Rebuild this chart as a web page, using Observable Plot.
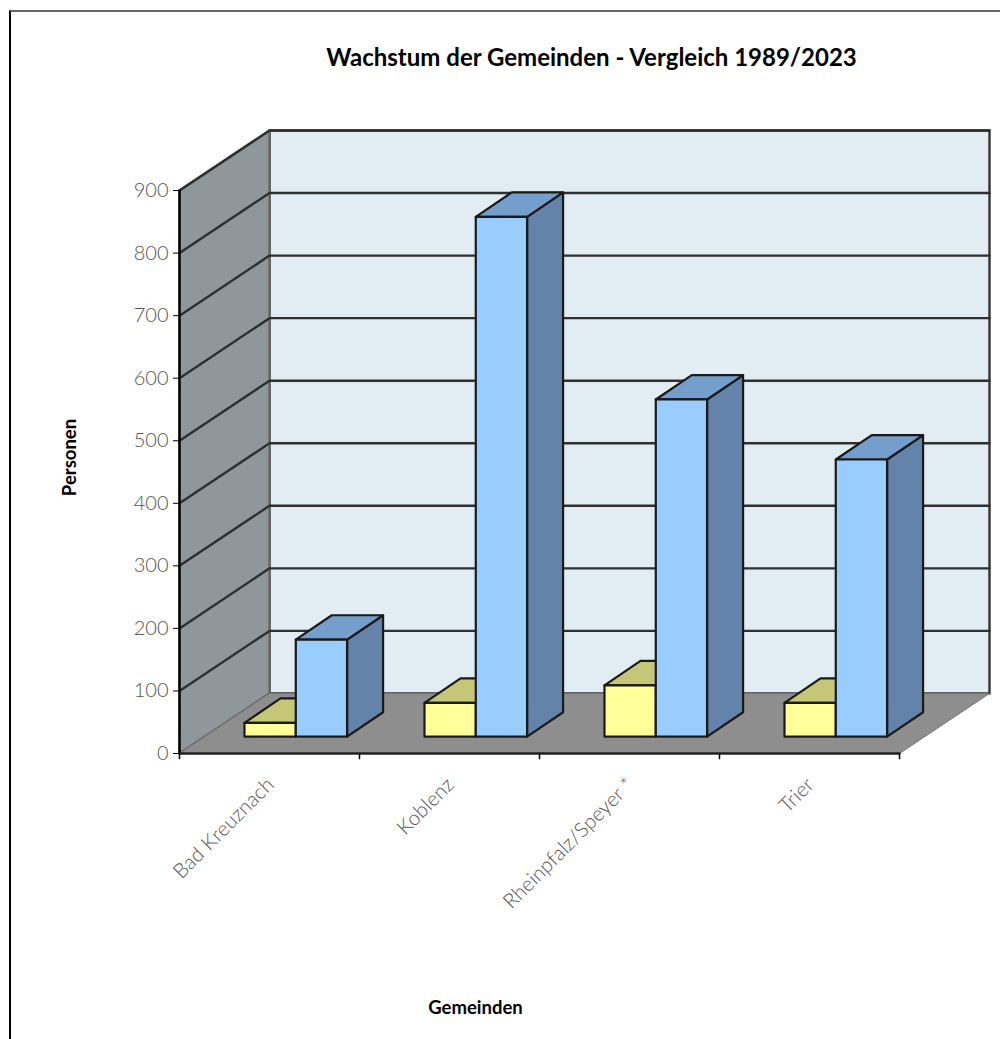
<!DOCTYPE html>
<html lang="de">
<head>
<meta charset="utf-8">
<script src="https://cdn.jsdelivr.net/npm/d3@7"></script>
<script src="https://cdn.jsdelivr.net/npm/@observablehq/plot@0.6"></script>
<style>
html,body{margin:0;padding:0;background:#fff;}
#frame{position:absolute;left:9px;top:10px;right:0;bottom:0;border-left:2px solid #000;border-top:2px solid #666;pointer-events:none;}
svg{display:block;}
</style>
</head>
<body>
<div id="chart"></div>
<div id="frame"></div>
<script>
const gemeinden = ["Bad Kreuznach", "Koblenz", "Rheinpfalz/Speyer *", "Trier"];
const werte1989 = [22, 54, 82, 54];
const werte2023 = [155, 831, 539, 443];
const yTicks = [0, 100, 200, 300, 400, 500, 600, 700, 800, 900];
const xTicks = [0, 1, 2, 3, 4];
const gridWerte = [100, 200, 300, 400, 500, 600, 700, 800, 900];

const DEPTH_X = 0.5, DEPTH_Y = 96;          // oblique offset of the room
const BAR_DX = 0.2, BAR_DY = 39;            // oblique offset of a bar
const LIFT = 27, START = 0.361, BAR_W = 0.285; // bars stand on the floor

const poly = (pts, fill, stroke, strokeWidth) =>
  Plot.line([...pts, pts[0]].map(([x, y]) => ({x, y})), {x: "x", y: "y", fill, stroke, strokeWidth, strokeLinejoin: "round"});

function bar(x0, v, front, top, side) {
  const x1 = x0 + BAR_W, y0 = LIFT, y1 = LIFT + v;
  return [
    poly([[x1, y0], [x1 + BAR_DX, y0 + BAR_DY], [x1 + BAR_DX, y1 + BAR_DY], [x1, y1]], side, "#1a1a1a", 2.2),
    poly([[x0, y1], [x1, y1], [x1 + BAR_DX, y1 + BAR_DY], [x0 + BAR_DX, y1 + BAR_DY]], top, "#1a1a1a", 2.2),
    poly([[x0, y0], [x1, y0], [x1, y1], [x0, y1]], front, "#1a1a1a", 2.2)
  ];
}

const LABEL_FONT = "Lato";
const boldText = (t, opts) => Plot.text([t], {
  frameAnchor: "top-left", lineAnchor: "middle", fontFamily: LABEL_FONT, fontWeight: 700, fill: "#000", ...opts
});

const plot = Plot.plot({
  width: 1000, height: 1039,
  marginLeft: 179, marginRight: 11, marginTop: 130, marginBottom: 286,
  x: {type: "linear", domain: [0, 4 + DEPTH_X], axis: null},
  y: {type: "linear", domain: [0, 900 + DEPTH_Y], axis: null},
  style: {background: "transparent", fontFamily: LABEL_FONT},
  marks: [
    // back wall
    poly([[DEPTH_X, DEPTH_Y], [4 + DEPTH_X, DEPTH_Y], [4 + DEPTH_X, 900 + DEPTH_Y], [DEPTH_X, 900 + DEPTH_Y]], "#e2ecf3", "#333", 2.4),
    // left wall
    poly([[0, 0], [DEPTH_X, DEPTH_Y], [DEPTH_X, 900 + DEPTH_Y], [0, 900]], "#8f979b", "#666", 2.4),
    // floor
    poly([[0, 0], [4, 0], [4 + DEPTH_X, DEPTH_Y], [DEPTH_X, DEPTH_Y]], "#8e8e8e", "#777", 1),
    // grid lines: along the left wall, then along the back wall
    ...gridWerte.map(v => Plot.line([{x: 0, y: v}, {x: DEPTH_X, y: v + DEPTH_Y}, {x: 4 + DEPTH_X, y: v + DEPTH_Y}],
      {x: "x", y: "y", stroke: "#2f2f2f", strokeWidth: 2.4})),
    Plot.line([{x: 0, y: 0}, {x: 0, y: 900}], {x: "x", y: "y", stroke: "#000", strokeWidth: 2.4}),
    Plot.line([{x: 0, y: 0}, {x: 4, y: 0}], {x: "x", y: "y", stroke: "#222", strokeWidth: 2.4}),
    // bars
    ...gemeinden.flatMap((g, i) => [
      ...bar(i + START, werte1989[i], "#ffff99", "#c6c678", "#a8a868"),
      ...bar(i + START + BAR_W, werte2023[i], "#99ccff", "#749fcc", "#6383aa")
    ]),
    // axes
    Plot.axisY({ticks: yTicks, tickSize: 6, tickPadding: 5, label: null, fontSize: 20, fontWeight: 300,
      textStroke: "none", color: "#555", stroke: "#000", dy: 0, tickFormat: d => String(d)}),
    Plot.ruleX(xTicks, {x: d => d, y1: d => 0, y2: d => -10, stroke: "#000", strokeWidth: 1.5}),
    Plot.text(gemeinden, {
      x: (d, i) => i + 0.5, y: d => 0, text: d => d, rotate: -45, textAnchor: "end", lineAnchor: "middle",
      dx: 1, dy: 28, fontSize: 20.5, fontWeight: 300, fill: "#555"
    }),
    // titles
    boldText("Wachstum der Gemeinden - Vergleich 1989/2023", {dx: 412, dy: -72, fontSize: 24, textAnchor: "middle"}),
    boldText("Personen", {dx: -109, dy: 327, fontSize: 18.5, rotate: -90, textAnchor: "middle"}),
    boldText("Gemeinden", {dx: 296, dy: 878, fontSize: 18.5, textAnchor: "middle"})
  ]
});
document.getElementById("chart").append(plot);
</script>
</body>
</html>
